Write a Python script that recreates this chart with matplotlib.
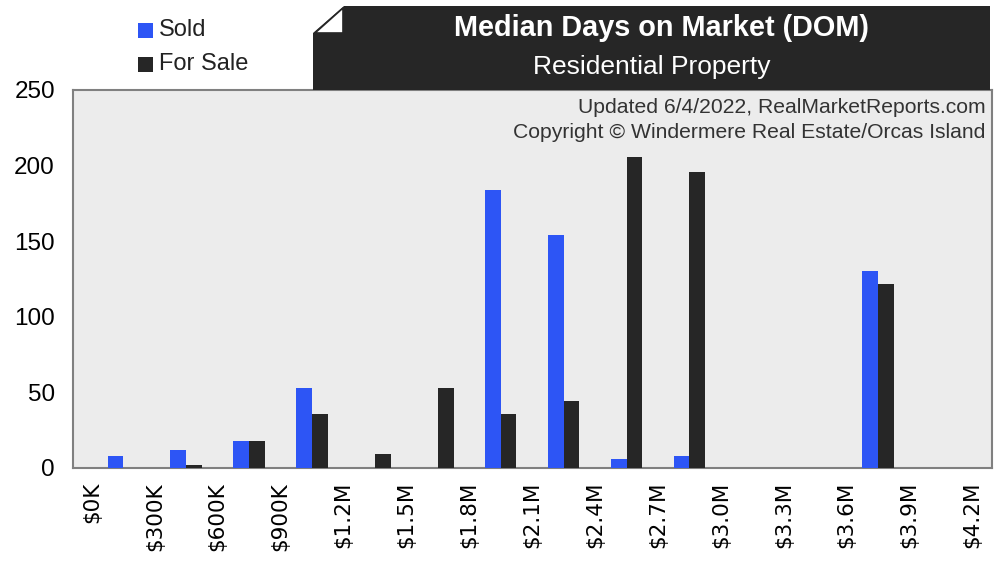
import numpy as np
import matplotlib.pyplot as plt
from matplotlib.patches import Polygon, Rectangle

## DATA
#
tick_labels = ['$0K', '$300K', '$600K', '$900K', '$1.2M', '$1.5M', '$1.8M',
               '$2.1M', '$2.4M', '$2.7M', '$3.0M', '$3.3M', '$3.6M',
               '$3.9M', '$4.2M']
sold = [8, 12, 18, 53, 0, 0, 184, 154, 6, 8, 0, 0, 130, 0]       # days
for_sale = [0, 2, 18, 36, 9, 53, 36, 44, 206, 196, 0, 0, 122, 0]  # days

blue = '#2d55f5'
dark = '#262626'

W, H = 1001, 562
fig = plt.figure(figsize=(W / 100, H / 100), dpi=100)

def fx(px):
    return px / W

def fy(py):
    return 1 - py / H

# plot area
ax = fig.add_axes([fx(73), fy(468), fx(992) - fx(73), fy(90) - fy(468)])
ax.set_facecolor('#ececec')
for s in ax.spines.values():
    s.set_color('#808080')
    s.set_linewidth(1.5)

bins = np.arange(len(sold))
ax.bar(bins + 0.375, sold, width=0.25, color=blue, zorder=3)
ax.bar(bins + 0.625, for_sale, width=0.25, color=dark, zorder=3)

ax.set_xlim(-0.30, 14.31)
ax.set_ylim(0, 250)
ax.set_xticks(np.arange(len(tick_labels)))
ax.set_xticklabels(tick_labels, rotation=90, family='DejaVu Sans', fontsize=15.5)
ax.set_yticks([0, 50, 100, 150, 200, 250])
ax.set_yticklabels(['0', '50', '100', '150', '200', '250'],
                   family='Liberation Sans', fontsize=17.5)
ax.tick_params(axis='x', length=0, pad=10)
ax.tick_params(axis='y', length=0, pad=13)

ax.text(0.993, 0.955, 'Updated 6/4/2022, RealMarketReports.com',
        transform=ax.transAxes, ha='right', va='center',
        family='Liberation Sans', fontsize=15.2, color='#333333', zorder=4)
ax.text(0.993, 0.888, 'Copyright \u00a9 Windermere Real Estate/Orcas Island',
        transform=ax.transAxes, ha='right', va='center',
        family='Liberation Sans', fontsize=15.2, color='#333333', zorder=4)

# title box with folded corner
box = Polygon([(fx(313), fy(33)), (fx(344), fy(6)), (fx(990), fy(6)),
               (fx(990), fy(90)), (fx(313), fy(90))],
              closed=True, transform=fig.transFigure, facecolor=dark,
              edgecolor='none')
fig.patches.append(box)
fold = Polygon([(fx(343), fy(8)), (fx(343), fy(33)), (fx(315), fy(33))],
               closed=True, transform=fig.transFigure, facecolor='white',
               edgecolor=dark, linewidth=1.2)
fig.patches.append(fold)

fig.text(fx(661), fy(28), 'Median Days on Market (DOM)', ha='center',
         va='center', family='Liberation Sans', fontweight='bold',
         fontsize=20.8, color='white')
fig.text(fx(652), fy(67), 'Residential Property', ha='center', va='center',
         family='Liberation Sans', fontsize=19, color='white')

# legend
for py, col, lab in [(30, blue, 'Sold'), (64, dark, 'For Sale')]:
    fig.patches.append(Rectangle((fx(138), fy(py + 7.5)), fx(15), fy(0) - fy(15),
                                 transform=fig.transFigure, facecolor=col,
                                 edgecolor='none'))
    fig.text(fx(159), fy(py), lab, ha='left', va='center',
             family='Liberation Sans', fontsize=17, color='#222222')

plt.savefig('out.png', dpi=100)
